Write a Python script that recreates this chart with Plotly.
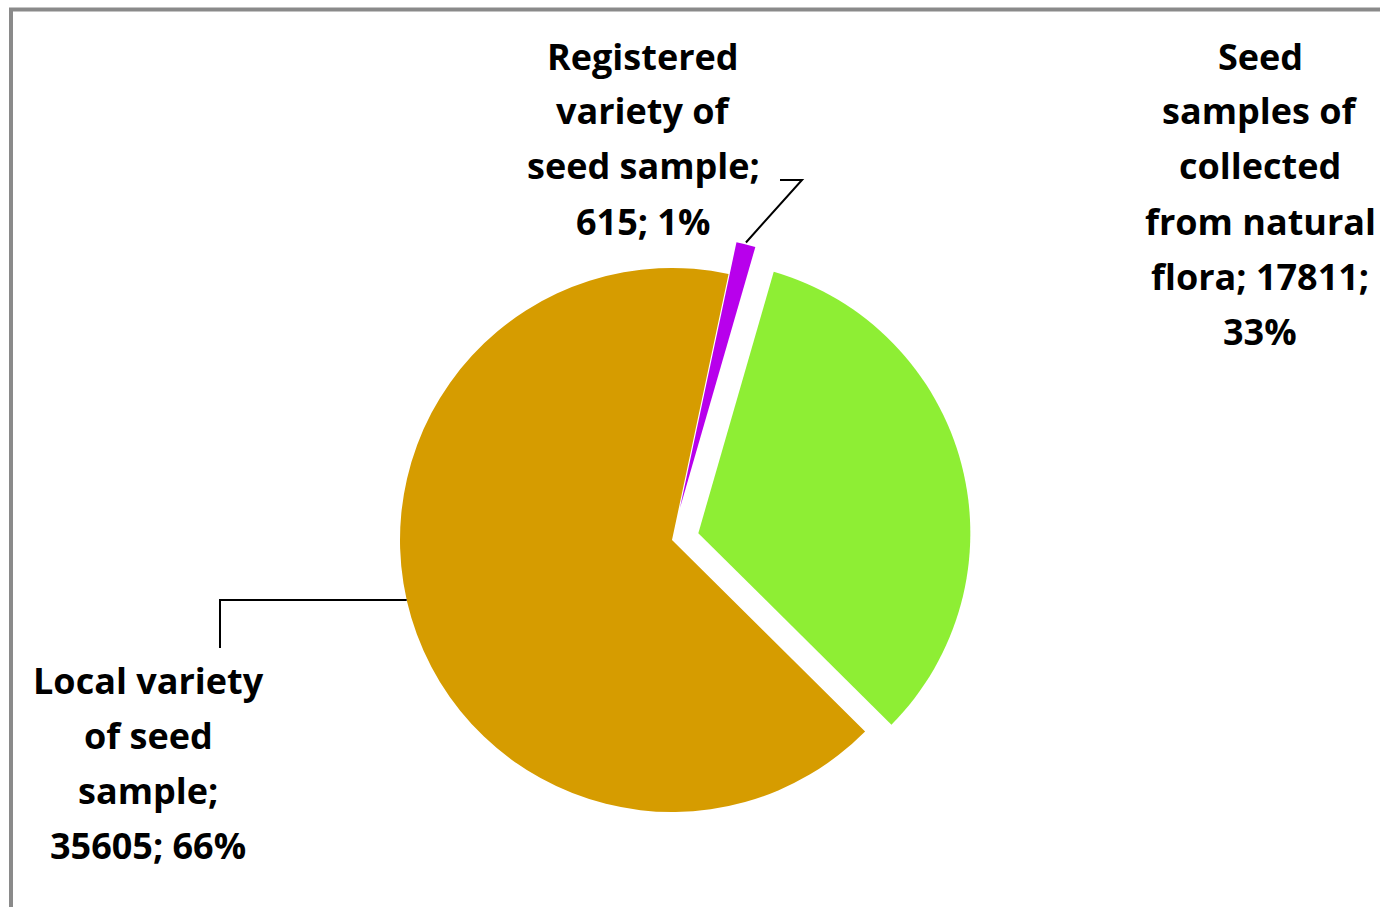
import math
import plotly.graph_objects as go

# ---------------- data ----------------
categories = [
    "Registered variety of seed sample",
    "Seed samples of collected from natural flora",
    "Local variety of seed sample",
]
values = [615, 17811, 35605]
colors = ["#B800EC", "#8EEE34", "#D69C00"]
label_lines = [
    ["Registered", "variety of", "seed sample;", "{v}; {p}%"],
    ["Seed", "samples of", "collected", "from natural", "flora; {v};", "{p}%"],
    ["Local variety", "of seed", "sample;", "{v}; {p}%"],
]

# ---------------- layout geometry ----------------
W, H = 1380, 907
pulls = [0.12, 0.10, 0.0]
rotation = 12
cx_px, cy_px, r_px = 672, 540, 272
box = 2 * r_px * (1 + max(pulls))
dom_x = [(cx_px - box / 2) / W, (cx_px + box / 2) / W]
dom_y = [1 - (cy_px + box / 2) / H, 1 - (cy_px - box / 2) / H]

label_pos = [(643, 56), (1260, 56), (148, 680)]
line_gap = 55
font = dict(family="Open Sans, Lato, sans-serif", size=36, color="#000000")

total = sum(values)
fig = go.Figure()
fig.add_trace(go.Pie(
    labels=categories,
    values=values,
    sort=False,
    direction="clockwise",
    rotation=rotation,
    pull=pulls,
    textinfo="none",
    marker=dict(colors=colors, line=dict(width=0)),
    domain=dict(x=dom_x, y=dom_y),
    hovertemplate="%{label}<br>%{value}<br>%{percent}<extra></extra>",
))


def px(x, y):
    return x / W, 1 - y / H


annotations = []
for i, lines in enumerate(label_lines):
    pct = round(100 * values[i] / total)
    lx, ly = label_pos[i]
    for j, ln in enumerate(lines):
        txt = ln.format(v=values[i], p=pct)
        ax, ay = px(lx, ly + j * line_gap)
        annotations.append(dict(
            text="<b>%s</b>" % txt, x=ax, y=ay, xref="paper", yref="paper",
            xanchor="center", yanchor="middle", showarrow=False, font=font,
        ))


def pie_point(angle_deg, rad):
    a = math.radians(angle_deg)
    return cx_px + rad * math.sin(a), cy_px - rad * math.cos(a)


# leader line for registered slice (tip of pulled slice)
frac0 = values[0] / total
mid0 = rotation + 360 * frac0 / 2
tx, ty = pie_point(mid0, r_px * (1 + pulls[0]))
shapes = []
p1 = px(780, 180)
p2 = px(802, 180)
p3 = px(tx, ty - 2)
shapes.append(dict(type="path", xref="paper", yref="paper",
                   path="M %f,%f L %f,%f L %f,%f" % (p1[0], p1[1], p2[0], p2[1], p3[0], p3[1]),
                   line=dict(color="#000000", width=2)))

# leader line for local slice
y_el = 600
cos_t = (cy_px - y_el) / r_px
theta = 360 - math.degrees(math.acos(cos_t))
ex, ey = pie_point(theta, r_px)
q1 = px(220, 648)
q2 = px(220, y_el)
q3 = px(ex, ey)
shapes.append(dict(type="path", xref="paper", yref="paper",
                   path="M %f,%f L %f,%f L %f,%f" % (q1[0], q1[1], q2[0], q2[1], q3[0], q3[1]),
                   line=dict(color="#000000", width=2)))

# chart frame
shapes.append(dict(type="rect", xref="paper", yref="paper",
                   x0=11 / W, x1=1.02, y0=-0.02, y1=1 - 9.5 / H,
                   line=dict(color="#8A8A8A", width=4), fillcolor="rgba(0,0,0,0)"))

fig.update_layout(
    width=W, height=H,
    margin=dict(l=0, r=0, t=0, b=0),
    paper_bgcolor="#FFFFFF",
    plot_bgcolor="#FFFFFF",
    showlegend=False,
    annotations=annotations,
    shapes=shapes,
)

fig.write_html("out.html")
